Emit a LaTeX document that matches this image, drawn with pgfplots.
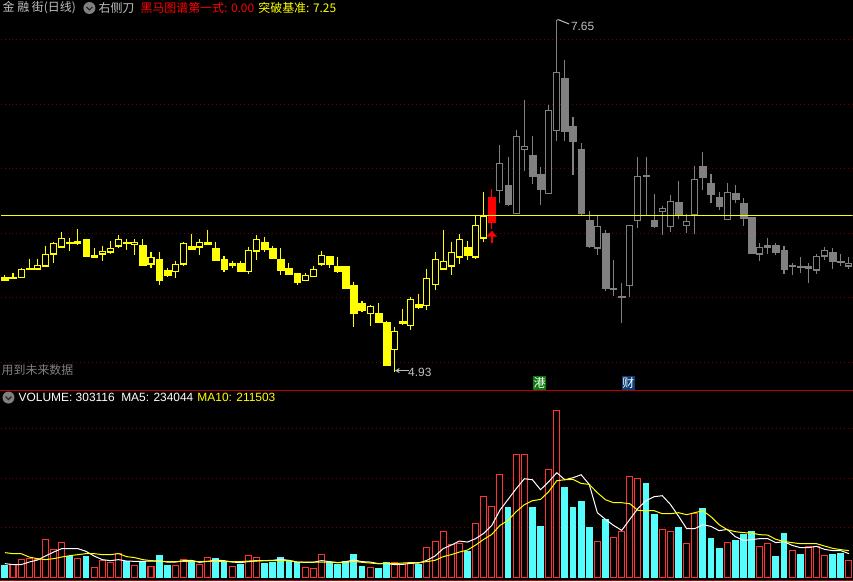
\documentclass[border=0pt]{standalone}
\usepackage{pgfplots}
\pgfplotsset{compat=1.18}
\usepackage{fontspec}
\setmainfont{Liberation Sans}
\newfontfamily\cjk{Noto Sans CJK SC}
\definecolor{candY}{HTML}{FFFF00}
\definecolor{candG}{HTML}{808080}
\definecolor{candR}{HTML}{FF0000}
\definecolor{volR}{HTML}{FF3232}
\definecolor{volC}{HTML}{54FCFC}
\definecolor{gridR}{HTML}{700000}
\definecolor{sepR}{HTML}{C00000}
\definecolor{txt}{HTML}{C0C0C0}
\tikzset{dots/.style={gridR,line width=1bp,dash pattern=on 1bp off 3bp}}
% filled candle: color, i, top, bot, hi, lo (pixel rows of the price panel)
\newcommand\CF[6]{%
  \pgfmathsetmacro\xa{#2-0.42}\pgfmathsetmacro\xb{#2+0.42}%
  \addplot[#1,line width=1.05bp,forget plot] coordinates {(#2,#5)(#2,#6)};
  \addplot[draw=#1,fill=#1,line width=0.2bp,forget plot] coordinates {(\xa,#3)(\xb,#3)(\xb,#4)(\xa,#4)} -- cycle;
}
% hollow candle: stroke sits just inside the outer edges that were read
\newcommand\CH[6]{%
  \pgfmathsetmacro\xa{#2-0.37}\pgfmathsetmacro\xb{#2+0.37}%
  \pgfmathsetmacro\ya{#3+0.4}\pgfmathsetmacro\yb{#4-0.4}%
  \addplot[#1,line width=1.05bp,forget plot] coordinates {(#2,#5)(#2,#6)};
  \addplot[draw=#1,fill=black,line width=1.05bp,forget plot] coordinates {(\xa,\ya)(\xb,\ya)(\xb,\yb)(\xa,\yb)} -- cycle;
}
\newcommand\YF[5]{\CF{candY}{#1}{#2}{#3}{#4}{#5}}
\newcommand\YH[5]{\CH{candY}{#1}{#2}{#3}{#4}{#5}}
\newcommand\GF[5]{\CF{candG}{#1}{#2}{#3}{#4}{#5}}
\newcommand\GH[5]{\CH{candG}{#1}{#2}{#3}{#4}{#5}}
\newcommand\RF[5]{\CF{candR}{#1}{#2}{#3}{#4}{#5}}
% volume bars: index, height
\newcommand\VR[2]{%
  \pgfmathsetmacro\xa{#1-0.37}\pgfmathsetmacro\xb{#1+0.37}\pgfmathsetmacro\ya{#2-0.5}%
  \addplot[draw=volR,fill=black,line width=1.05bp,forget plot] coordinates {(\xa,0.5)(\xb,0.5)(\xb,\ya)(\xa,\ya)} -- cycle;
}
\newcommand\VC[2]{%
  \pgfmathsetmacro\xa{#1-0.42}\pgfmathsetmacro\xb{#1+0.42}%
  \addplot[draw=none,fill=volC,forget plot] coordinates {(\xa,0)(\xb,0)(\xb,#2)(\xa,#2)} -- cycle;
}
\begin{document}
\begin{tikzpicture}[x=1bp,y=1bp]
\fill[black] (0,0) rectangle (853,582);
\begin{axis}[at={(0,191bp)},anchor=south west,scale only axis,width=853bp,height=391bp,
  hide axis,xmin=-0.5415,xmax=104.44,ymin=0,ymax=391,y dir=reverse]
\addplot[dots] coordinates {(-0.54,39.5)(104.44,39.5)};
\addplot[dots] coordinates {(-0.54,104.5)(104.44,104.5)};
\addplot[dots] coordinates {(-0.54,168.5)(104.44,168.5)};
\addplot[dots] coordinates {(-0.54,233.5)(104.44,233.5)};
\addplot[dots] coordinates {(-0.54,297.5)(104.44,297.5)};
\addplot[dots] coordinates {(-0.54,362.5)(104.44,362.5)};
\YF{0}{277.3}{280}{275}{280.7}
\YH{1}{277.3}{279.7}{273.3}{279.7}
\YH{2}{269.3}{278.7}{268.3}{278.7}
\YF{3}{268}{269.7}{259}{269.7}
\YH{4}{265.3}{269.7}{259.3}{269.7}
\YH{5}{254.3}{266.7}{246}{266.7}
\YH{6}{243.3}{254.7}{242}{263}
\YH{7}{238.3}{247.7}{232}{247.7}
\YF{8}{242}{243}{238}{251}
\YH{9}{241.3}{243.7}{229.3}{245}
\YF{10}{239}{256}{239}{257}
\YH{11}{255.3}{257.7}{248.3}{258.7}
\YH{12}{251.3}{254.7}{246}{261}
\YH{13}{248.3}{252.7}{241}{254.7}
\YH{14}{239.3}{246.7}{235.3}{248}
\YF{15}{242}{243}{239}{250}
\YH{16}{242.3}{245.3}{239.3}{255}
\YF{17}{245}{265}{239.3}{265}
\YH{18}{257.3}{264.7}{252}{268}
\YF{19}{259}{280}{252}{285}
\YF{20}{270}{275}{268.3}{277}
\YH{21}{264.3}{272.7}{261}{278}
\YH{22}{243.3}{264.7}{242.3}{266}
\YF{23}{246}{249}{234}{249}
\YH{24}{242.3}{247.7}{239.3}{255}
\YF{25}{242}{244}{230}{245}
\YF{26}{248}{260}{242}{261}
\YF{27}{259}{269}{256}{272}
\YH{28}{263.3}{265.7}{261}{268}
\YF{29}{263.3}{271}{261}{272}
\YH{30}{250.3}{272.7}{247}{274}
\YH{31}{239.3}{251.7}{235.3}{260}
\YF{32}{242}{249}{237}{252}
\YF{33}{248}{258}{246}{259}
\YF{34}{259}{270}{248}{275}
\YF{35}{268}{274}{263}{274}
\YF{36}{273}{282}{273}{285}
\YH{37}{275.3}{281.7}{273}{281.7}
\YH{38}{269.3}{277.7}{266}{277.7}
\YH{39}{255.3}{264.7}{251}{266}
\YF{40}{256}{264}{256}{268}
\YF{41}{266}{271}{257}{273}
\YF{42}{266}{288}{266}{289}
\YF{43}{285}{313}{282}{327}
\YF{44}{303}{310}{301}{312}
\YH{45}{306.3}{314.7}{305}{326}
\YF{46}{313}{322}{303}{322}
\YF{47}{322}{366}{321}{366}
\YH{48}{331.3}{350.7}{327}{372}
\YF{49}{321}{323}{309}{325}
\YH{50}{299.3}{326.7}{297}{330}
\YF{51}{304}{307}{294}{309}
\YH{52}{278.3}{306.7}{269}{310}
\YH{53}{259.3}{285.7}{252}{290}
\YH{54}{261.3}{269.7}{230}{269.7}
\YH{55}{252.3}{266.7}{242}{275}
\YH{56}{239.3}{257.7}{234}{264}
\YF{57}{247}{255}{241}{260}
\YH{58}{225.3}{257.7}{215}{259}
\YH{59}{216.3}{238.7}{192}{242}
\RF{60}{197}{222}{189}{229}
\GH{61}{163.3}{190.7}{145}{203}
\GF{62}{185}{204}{157}{206}
\GH{63}{136.3}{214.3}{130}{214.3}
\GH{64}{146.3}{149.7}{100}{171}
\GF{65}{155}{176}{136}{184}
\GF{66}{174}{189}{167}{205}
\GH{67}{110.3}{193.7}{105}{193.7}
\GH{68}{72.3}{130.7}{20}{141}
\GF{69}{78}{131}{60}{141}
\GF{70}{126}{141}{117}{175}
\GF{71}{149}{213}{143}{215}
\GF{72}{220}{246}{211}{248}
\GH{73}{226.3}{248.7}{216}{255}
\GF{74}{233}{288}{230}{291}
\GH{75}{288.3}{290.7}{260}{296}
\GF{76}{296}{297.7}{283}{323}
\GH{77}{225.3}{286.7}{225}{297.3}
\GH{78}{176.3}{220.7}{157}{228}
\GF{79}{175}{176.7}{157}{215}
\GF{80}{220}{226}{194}{228}
\GH{81}{208.3}{211.7}{206}{235}
\GH{82}{201.3}{226.7}{195}{232}
\GF{83}{202}{215}{181}{219}
\GH{84}{221.3}{225.7}{214}{233}
\GH{85}{179.3}{215.3}{166}{234}
\GF{86}{166}{177}{152}{190}
\GF{87}{183}{194}{174}{203}
\GF{88}{197}{206}{192}{210}
\GH{89}{192.3}{219.7}{183}{219.7}
\GF{90}{193}{199}{185}{203}
\GF{91}{203}{218}{198}{226}
\GF{92}{217}{253}{217}{254}
\GH{93}{247.3}{254.7}{243}{261}
\GH{94}{245.3}{247.7}{238}{254}
\GF{95}{245}{252}{243}{255}
\GF{96}{250}{269}{246}{274}
\GF{97}{265}{266}{263}{275}
\GF{98}{266}{267}{257}{273}
\GH{99}{266.3}{268.7}{263}{283}
\GH{100}{256.3}{270.7}{254}{274}
\GH{101}{250.3}{256.7}{247}{260}
\GF{102}{252}{261}{248}{269}
\GF{103}{261}{262}{254}{266}
\GH{104}{263.3}{266.7}{257}{269}
% breakout line
\addplot[candY,line width=1bp] coordinates {(-0.42,215.5)(104.44,215.5)};
% signal arrow under the red candle
\addplot[candR,line width=2bp] coordinates {(60,236)(60,243)};
\addplot[draw=none,fill=candR] coordinates {(59.35,237)(60,231)(60.65,237)} -- cycle;
% extreme markers
\addplot[txt,line width=1bp] coordinates {(68,20)(68.3,20)(69.5,24)};
\addplot[txt,line width=1bp] coordinates {(48.2,371)(49.8,371)};
\addplot[txt,line width=1bp] coordinates {(48.6,369)(48.2,371)(48.6,373)};
\end{axis}
\begin{axis}[at={(0,0)},anchor=south west,scale only axis,width=853bp,height=191bp,
  hide axis,xmin=-0.5415,xmax=104.44,ymin=-3,ymax=188]
\addplot[dots] coordinates {(-0.54,149.5)(104.44,149.5)};
\addplot[dots] coordinates {(-0.54,99.5)(104.44,99.5)};
\addplot[dots] coordinates {(-0.54,50.5)(104.44,50.5)};
\VC{0}{13}\VR{1}{14.3}\VR{2}{19.7}\VR{3}{20.7}\VR{4}{19.7}\VR{5}{39.7}\VR{6}{29.7}\VR{7}{36.7}\VC{8}{22.3}\VR{9}{20.7}
\VC{10}{22}\VR{11}{11.3}\VR{12}{18.7}\VR{13}{16.7}\VR{14}{25.7}\VC{15}{17.7}\VR{16}{13.7}\VC{17}{17.7}\VR{18}{12.7}\VC{19}{23.7}
\VC{20}{13}\VR{21}{13.7}\VR{22}{19.7}\VC{23}{16.3}\VR{24}{14.7}\VR{25}{21.7}\VC{26}{20.7}\VC{27}{16.7}\VR{28}{12.7}\VC{29}{14}
\VR{30}{23.7}\VR{31}{21.7}\VC{32}{15}\VC{33}{16}\VC{34}{21.7}\VC{35}{17.7}\VC{36}{16}\VR{37}{11.3}\VR{38}{10.3}\VR{39}{24.7}
\VC{40}{16}\VC{41}{14.7}\VC{42}{17.7}\VC{43}{24}\VC{44}{12.7}\VR{45}{11.3}\VC{46}{10}\VC{47}{16.7}\VR{48}{16.3}\VR{49}{14.7}
\VR{50}{16.3}\VC{51}{14}\VR{52}{31.7}\VR{53}{37.7}\VR{54}{47.7}\VR{55}{34}\VR{56}{35.7}\VC{57}{27.3}\VR{58}{55.7}\VR{59}{82.7}
\VR{60}{72.7}\VR{61}{104.7}\VC{62}{71}\VR{63}{124.7}\VR{64}{124.7}\VC{65}{71}\VC{66}{52}\VR{67}{109.7}\VR{68}{168.7}\VC{69}{91}
\VC{70}{71}\VC{71}{77}\VC{72}{51}\VR{73}{37.7}\VC{74}{59}\VR{75}{41.7}\VR{76}{47.7}\VR{77}{102.7}\VR{78}{100.7}\VC{79}{95}
\VC{80}{64}\VR{81}{49.7}\VR{82}{47.7}\VC{83}{51}\VR{84}{35.7}\VR{85}{65.7}\VC{86}{70}\VC{87}{40}\VC{88}{30}\VR{89}{36.7}
\VC{90}{38}\VC{91}{44}\VC{92}{47}\VR{93}{32.7}\VR{94}{35.7}\VC{95}{22}\VC{96}{45}\VR{97}{28.7}\VC{98}{24}\VR{99}{32.7}
\VR{100}{32}\VR{101}{23.7}\VC{102}{24}\VC{103}{25}\VR{104}{18.7}
% MA5
\addplot[white,line width=1bp] coordinates {
(0,14.7)(1,13.7)(2,13.7)(3,16.3)(4,18.3)(5,22.3)(6,26.3)(7,29.7)(8,29.7)(9,29.7)
(10,27)(11,22.3)(12,18.7)(13,17.7)(14,18.7)(15,17.3)(16,17)(17,17)(18,17.3)(19,17.3)
(20,16.3)(21,16.3)(22,17.7)(23,18)(24,16)(25,17)(26,18.3)(27,17.7)(28,16.3)(29,15.7)
(30,16.7)(31,17.3)(32,17.7)(33,18)(34,19)(35,18)(36,16.3)(37,16)(38,16)(39,17.7)
(40,16.7)(41,15.7)(42,16.7)(43,18.3)(44,16.7)(45,16.3)(46,14.7)(47,15)(48,13.7)(49,14)
(50,15)(51,15.3)(52,18)(53,22.3)(54,29.7)(55,33.3)(56,37.3)(57,36.3)(58,39.7)(59,45)
(60,53)(61,68.3)(62,79)(63,89.7)(64,99.7)(65,98.7)(66,88.7)(67,96.7)(68,105.7)(69,98.7)
(70,100.7)(71,103.7)(72,94)(73,65.7)(74,59)(75,53)(76,48)(77,59)(78,70)(79,77.7)
(80,81.7)(81,82.7)(82,74)(83,62.3)(84,49.7)(85,49.7)(86,53.7)(87,52)(88,47.7)(89,49)
(90,41.7)(91,38)(92,38.7)(93,39.7)(94,39.7)(95,35.7)(96,36.7)(97,33)(98,30.7)(99,30.7)
(100,32)(101,29)(102,27.7)(103,27.7)(104,24.7)};
% MA10
\addplot[candY,line width=1bp] coordinates {
(0,25.7)(1,24.7)(2,24.7)(3,21.3)(4,19.7)(5,18.7)(6,19.7)(7,21.3)(8,22.7)(9,23.7)
(10,24.7)(11,24.7)(12,23.7)(13,23.7)(14,24.7)(15,21.7)(16,20.7)(17,18.7)(18,17.7)(19,17.3)
(20,16.7)(21,16.7)(22,17)(23,17)(24,16.7)(25,17)(26,17)(27,16.7)(28,16.7)(29,16.7)
(30,17.3)(31,17.7)(32,17.7)(33,17.7)(34,17.7)(35,17.7)(36,16.3)(37,16.3)(38,16.3)(39,16.3)
(40,16.3)(41,15.7)(42,16)(43,17)(44,16)(45,15.3)(46,14.7)(47,14.7)(48,14.7)(49,15.3)
(50,15.7)(51,15.7)(52,16.7)(53,18)(54,21.7)(55,23.7)(56,26.3)(57,28.3)(58,33.3)(59,39)
(60,44)(61,53)(62,58)(63,66.7)(64,73.7)(65,77.7)(66,79)(67,86.7)(68,97.7)(69,98.7)
(70,99)(71,95)(72,94)(73,85.7)(74,78.7)(75,75.7)(76,75.7)(77,74.7)(78,68)(79,67.7)
(80,67.7)(81,64.7)(82,64.7)(83,65.7)(84,63.7)(85,65.7)(86,67.7)(87,61.7)(88,53.7)(89,48.7)
(90,46.7)(91,45.7)(92,45.3)(93,43.7)(94,43.3)(95,39)(96,37)(97,35.7)(98,34.7)(99,34.7)
(100,34.7)(101,32.3)(102,30)(103,28.7)(104,27.7)};
\end{axis}
% panel borders
\draw[sepR,line width=1bp] (0,191.5) -- (853,191.5);
\draw[sepR,line width=1bp] (0,0.8) -- (853,0.8);
% header
\tikzset{t/.style={anchor=west,inner sep=0pt,font=\fontsize{12}{12}\selectfont}}
\node[t,text=txt] at (2,574) {\cjk 金 融 街(日线)};
\fill[candG] (89,574) circle (6);
\draw[black!70!gray,line width=1.2bp] (86,575) -- (89,572) -- (92,575);
\node[t,text=txt] at (98,574) {\cjk 右侧刀};
\node[t,text=candR] at (140,574) {\cjk 黑马图谱第一式: 0.00};
\node[t,text=candY] at (258,574) {\cjk 突破基准: 7.25};
\node[t,text=txt] at (571,555.5) {7.65};
\node[t,text=txt] at (408,209.5) {4.93};
\node[t,text=candG] at (1,212) {\cjk 用到未来数据};
% badges
\definecolor{badgeG}{HTML}{0A780A}
\definecolor{badgeB}{HTML}{0A3C78}
\fill[badgeG] (533,192) rectangle (546.5,206);
\node[anchor=center,inner sep=0pt,text=white,font=\fontsize{12}{12}\selectfont] at (539.7,199) {\cjk 港};
\fill[badgeB] (622,192) rectangle (635,206);
\node[anchor=center,inner sep=0pt,text=white,font=\fontsize{12}{12}\selectfont] at (628.5,199) {\cjk 财};
% volume header
\fill[candG] (8,184) circle (6);
\draw[black!70!gray,line width=1.2bp] (5,185) -- (8,182) -- (11,185);
\node[t,text=white] at (18,184) {VOLUME: 303116};
\node[t,text=white] at (120.7,184) {MA5: 234044};
\node[t,text=candY] at (197,184) {MA10: 211503};
\end{tikzpicture}
\end{document}
